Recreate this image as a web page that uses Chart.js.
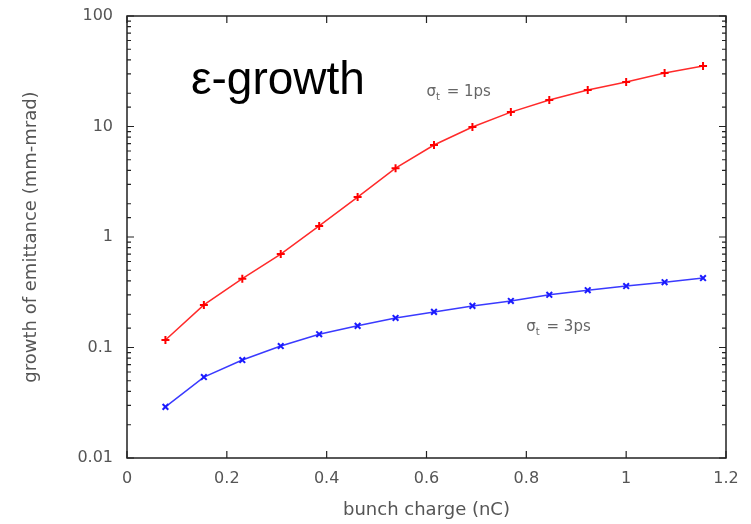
<!DOCTYPE html>
<html>
<head>
<meta charset="utf-8">
<script src="https://cdn.jsdelivr.net/npm/chart.js@4.4.1/dist/chart.umd.min.js"></script>
<style>
  html, body { margin: 0; padding: 0; background: #fff; }
  #wrap { width: 751px; height: 524px; }
</style>
</head>
<body>
<div id="wrap"><canvas id="emitChart"></canvas></div>
<script>
// bunch charge (nC) and emittance growth (mm-mrad)
var charge = [0.077, 0.154, 0.231, 0.308, 0.385, 0.462, 0.538, 0.615, 0.692, 0.769, 0.846, 0.923, 1.0, 1.077, 1.154];
var growth1ps = [0.117, 0.243, 0.42, 0.70, 1.26, 2.3, 4.2, 6.8, 9.9, 13.5, 17.4, 21.4, 25.3, 30.5, 35.3];
var growth3ps = [0.029, 0.054, 0.077, 0.103, 0.132, 0.157, 0.185, 0.21, 0.238, 0.264, 0.30, 0.33, 0.36, 0.39, 0.425];
var yTickLabels = ["0.01", "0.1", "1", "10", "100"];
var xTickLabels = ["0", "0.2", "0.4", "0.6", "0.8", "1", "1.2"];

function toPoints(xs, ys) {
    return xs.map(function (x, i) { return { x: x, y: ys[i] }; });
}

// box around the plot plus inward tick marks on all four sides
var frameAndTicks = {
    id: 'frameAndTicks',
    afterDraw: function (chart) {
        var ctx = chart.ctx;
        var a = chart.chartArea;
        var xs = chart.scales.x, ys = chart.scales.y;
        ctx.save();
        ctx.strokeStyle = '#222';
        ctx.lineWidth = 1.5;
        ctx.strokeRect(a.left, a.top, a.right - a.left, a.bottom - a.top);
        ctx.lineWidth = 1.2;
        ctx.beginPath();
        ys.ticks.forEach(function (t) {
            var py = ys.getPixelForValue(t.value);
            var len = t.major ? 7 : 4;
            ctx.moveTo(a.left, py); ctx.lineTo(a.left + len, py);
            ctx.moveTo(a.right, py); ctx.lineTo(a.right - len, py);
        });
        xs.ticks.forEach(function (t) {
            var px = xs.getPixelForValue(t.value);
            ctx.moveTo(px, a.bottom); ctx.lineTo(px, a.bottom - 7);
            ctx.moveTo(px, a.top); ctx.lineTo(px, a.top + 7);
        });
        ctx.stroke();
        ctx.restore();
    }
};

// big heading and the two curve labels
var textLabels = {
    id: 'textLabels',
    afterDraw: function (chart) {
        var ctx = chart.ctx;
        var a = chart.chartArea;
        var xs = chart.scales.x, ys = chart.scales.y;
        ctx.save();
        ctx.fillStyle = '#000';
        ctx.font = '46px "Liberation Sans", Arial, sans-serif';
        ctx.textBaseline = 'alphabetic';
        ctx.fillText('ε-growth', a.left + 64, a.top + 78);

        function sigmaLabel(xv, yv, rest) {
            var px = xs.getPixelForValue(xv);
            var py = ys.getPixelForValue(yv);
            ctx.fillStyle = '#666';
            ctx.textBaseline = 'middle';
            ctx.font = '15px "DejaVu Sans", sans-serif';
            ctx.fillText('σ', px, py);
            var w = ctx.measureText('σ').width;
            ctx.font = '10px "DejaVu Sans", sans-serif';
            ctx.fillText('t', px + w, py + 5);
            var w2 = ctx.measureText('t').width;
            ctx.font = '15px "DejaVu Sans", sans-serif';
            ctx.fillText(rest, px + w + w2 + 2, py);
        }
        sigmaLabel(0.6, 20.5, ' = 1ps');
        sigmaLabel(0.8, 0.153, ' = 3ps');
        ctx.restore();
    }
};

function createEmittanceChart() {
    var ctx = document.getElementById('emitChart').getContext('2d');

    new Chart(ctx, {
        type: 'line',
        data: {
            datasets: [{
                label: 'σt = 1ps',
                data: toPoints(charge, growth1ps),
                borderColor: '#ff2a2a',
                backgroundColor: '#ff0000',
                borderWidth: 1.5,
                pointStyle: 'cross',
                pointRadius: 4,
                pointBorderWidth: 2,
                pointBorderColor: '#ff0000',
                fill: false,
                tension: 0
            }, {
                label: 'σt = 3ps',
                data: toPoints(charge, growth3ps),
                borderColor: '#3a3aff',
                backgroundColor: '#0000ff',
                borderWidth: 1.5,
                pointStyle: 'crossRot',
                pointRadius: 4,
                pointBorderWidth: 2,
                pointBorderColor: '#1a1aff',
                fill: false,
                tension: 0
            }]
        },
        options: {
            responsive: true,
            maintainAspectRatio: false,
            animation: false,
            layout: { padding: { top: 16, right: 25, left: 0, bottom: 0 } },
            plugins: {
                legend: { display: false },
                tooltip: { enabled: false }
            },
            scales: {
                x: {
                    type: 'linear',
                    min: 0,
                    max: 1.2,
                    grid: { display: false, drawTicks: false },
                    border: { display: false },
                    ticks: {
                        stepSize: 0.2,
                        padding: 11,
                        color: '#555',
                        font: { family: '"DejaVu Sans", sans-serif', size: 16 },
                        callback: function (v) {
                            var i = Math.round(v / 0.2);
                            return xTickLabels[i];
                        }
                    },
                    title: {
                        display: true,
                        text: 'bunch charge (nC)',
                        color: '#555',
                        font: { family: '"DejaVu Sans", sans-serif', size: 18 },
                        padding: { top: 0, bottom: 3 }
                    },
                    afterFit: function (scale) {
                        scale.height = 66;
                        scale.paddingLeft = 0;
                        scale.paddingRight = 0;
                    }
                },
                y: {
                    type: 'logarithmic',
                    min: 0.01,
                    max: 100,
                    grid: { display: false, drawTicks: false },
                    border: { display: false },
                    ticks: {
                        autoSkip: false,
                        padding: 14,
                        color: '#555',
                        font: { family: '"DejaVu Sans", sans-serif', size: 16 },
                        callback: function (v) {
                            var e = Math.log10(v);
                            if (Math.abs(e - Math.round(e)) > 1e-6) return '';
                            return yTickLabels[Math.round(e) + 2];
                        }
                    },
                    title: {
                        display: true,
                        text: 'growth of emittance (mm-mrad)',
                        color: '#555',
                        font: { family: '"DejaVu Sans", sans-serif', size: 18 },
                        padding: { top: 21, bottom: 0 }
                    },
                    afterFit: function (scale) {
                        scale.width = 127;
                        scale.paddingTop = 0;
                        scale.paddingBottom = 0;
                    }
                }
            }
        },
        plugins: [frameAndTicks, textLabels]
    });
}

createEmittanceChart();
</script>
</body>
</html>
